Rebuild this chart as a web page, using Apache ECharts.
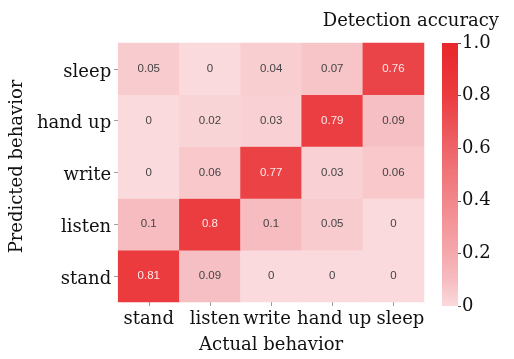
<!DOCTYPE html>
<html>
<head>
<meta charset="utf-8">
<script src="https://cdn.jsdelivr.net/npm/echarts@6/dist/echarts.min.js"></script>
<style>html,body{margin:0;padding:0;background:#fff}#c{width:514px;height:359px}</style>
</head>
<body>
<div id="c"></div>
<script>
const actualCats = ['stand', 'listen', 'write', 'hand up', 'sleep'];
const predictedCats = ['stand', 'listen', 'write', 'hand up', 'sleep'];
// rows: predicted behaviour (bottom to top), columns: actual behaviour
const rowStand  = [0.81, 0.09, 0, 0, 0];
const rowListen = [0.1, 0.8, 0.1, 0.05, 0];
const rowWrite  = [0, 0.06, 0.77, 0.03, 0.06];
const rowHandUp = [0, 0.02, 0.03, 0.79, 0.09];
const rowSleep  = [0.05, 0, 0.04, 0.07, 0.76];
const colorbarTicks = [0, 0.2, 0.4, 0.6, 0.8, 1.0];

const rows = [rowStand, rowListen, rowWrite, rowHandUp, rowSleep];
// colour ramp, evenly spaced from 0 to 1
const COLORS = ['#fadadc', '#f6bcc0', '#f4a9ad', '#f3989c', '#f1878b', '#f0767a',
                '#ee6468', '#ec5054', '#eb3c40', '#e93135', '#e8262b'];
const serif = 'DejaVu Serif';

const data = [];
rows.forEach((row, yi) => row.forEach((v, xi) => {
  data.push({ value: [xi, yi, v], label: { color: v > 0.5 ? '#fde9ea' : '#444' } });
}));

// small per-label horizontal nudges seen in the reference
const xLabelShift = [0, 5, -4, 2, 7];
const xRich = {};
xLabelShift.forEach((s, i) => {
  xRich['l' + i] = {
    fontFamily: serif, fontSize: 18, color: '#111',
    padding: [0, s < 0 ? -2 * s : 0, 0, s > 0 ? 2 * s : 0]
  };
});

const chart = echarts.init(document.getElementById('c'), null, { renderer: 'canvas' });
chart.setOption({
  animation: false,
  backgroundColor: '#fff',
  title: {
    text: 'Detection accuracy', right: 10, top: 7,
    textStyle: { fontFamily: serif, fontSize: 18, fontWeight: 'normal', color: '#111' }
  },
  grid: [
    { left: 115, right: 90, top: 43, bottom: 51 },
    { left: 442, width: 16, top: 43, height: 263 }
  ],
  xAxis: [
    {
      type: 'category', data: actualCats, gridIndex: 0,
      name: 'Actual behavior', nameLocation: 'middle', nameGap: 34,
      nameTextStyle: { fontFamily: serif, fontSize: 18, color: '#111' },
      axisLine: { show: false },
      axisTick: { show: true, alignWithLabel: true, length: 4, lineStyle: { color: '#999' } },
      axisLabel: {
        fontFamily: serif, fontSize: 18, color: '#111', margin: 8, interval: 0,
        formatter: (v, i) => '{l' + i + '|' + v + '}',
        rich: xRich
      },
      splitLine: { show: false }
    },
    { type: 'category', data: ['bar'], gridIndex: 1, show: false }
  ],
  yAxis: [
    {
      type: 'category', data: predictedCats, gridIndex: 0,
      name: 'Predicted behavior', nameLocation: 'middle', nameGap: 84, nameRotate: 90,
      nameTextStyle: { fontFamily: serif, fontSize: 18, color: '#111', padding: [0, 0, 0, 12] },
      axisLine: { show: false },
      axisTick: { show: true, alignWithLabel: true, length: 4, lineStyle: { color: '#999' } },
      axisLabel: {
        fontFamily: serif, fontSize: 18, color: '#111', margin: 7, interval: 0,
        formatter: v => '{a|' + v + '}',
        rich: { a: { fontFamily: serif, fontSize: 18, color: '#111', padding: [6, 0, 0, 0] } }
      },
      splitLine: { show: false }
    },
    {
      type: 'value', gridIndex: 1, min: 0, max: 1, interval: 0.2, position: 'right',
      axisLine: { show: false },
      axisTick: { show: true, length: 3, lineStyle: { color: '#555' } },
      axisLabel: {
        fontFamily: serif, fontSize: 18, color: '#111', margin: 4,
        formatter: v => (v === 0 ? '0' : v.toFixed(1))
      },
      splitLine: { show: false }
    }
  ],
  visualMap: {
    show: false, min: 0, max: 1, dimension: 2, seriesIndex: 0,
    inRange: { color: COLORS }
  },
  series: [
    {
      type: 'heatmap', xAxisIndex: 0, yAxisIndex: 0, data: data,
      label: { show: true, fontFamily: 'Liberation Sans', fontSize: 11.5 },
      itemStyle: { borderWidth: 0 },
      emphasis: { disabled: true }
    },
    {
      type: 'bar', xAxisIndex: 1, yAxisIndex: 1, data: [1], barWidth: '100%',
      silent: true,
      itemStyle: {
        color: new echarts.graphic.LinearGradient(0, 1, 0, 0,
          COLORS.map((c, i) => ({ offset: i / (COLORS.length - 1), color: c })))
      }
    }
  ]
});
</script>
</body>
</html>
